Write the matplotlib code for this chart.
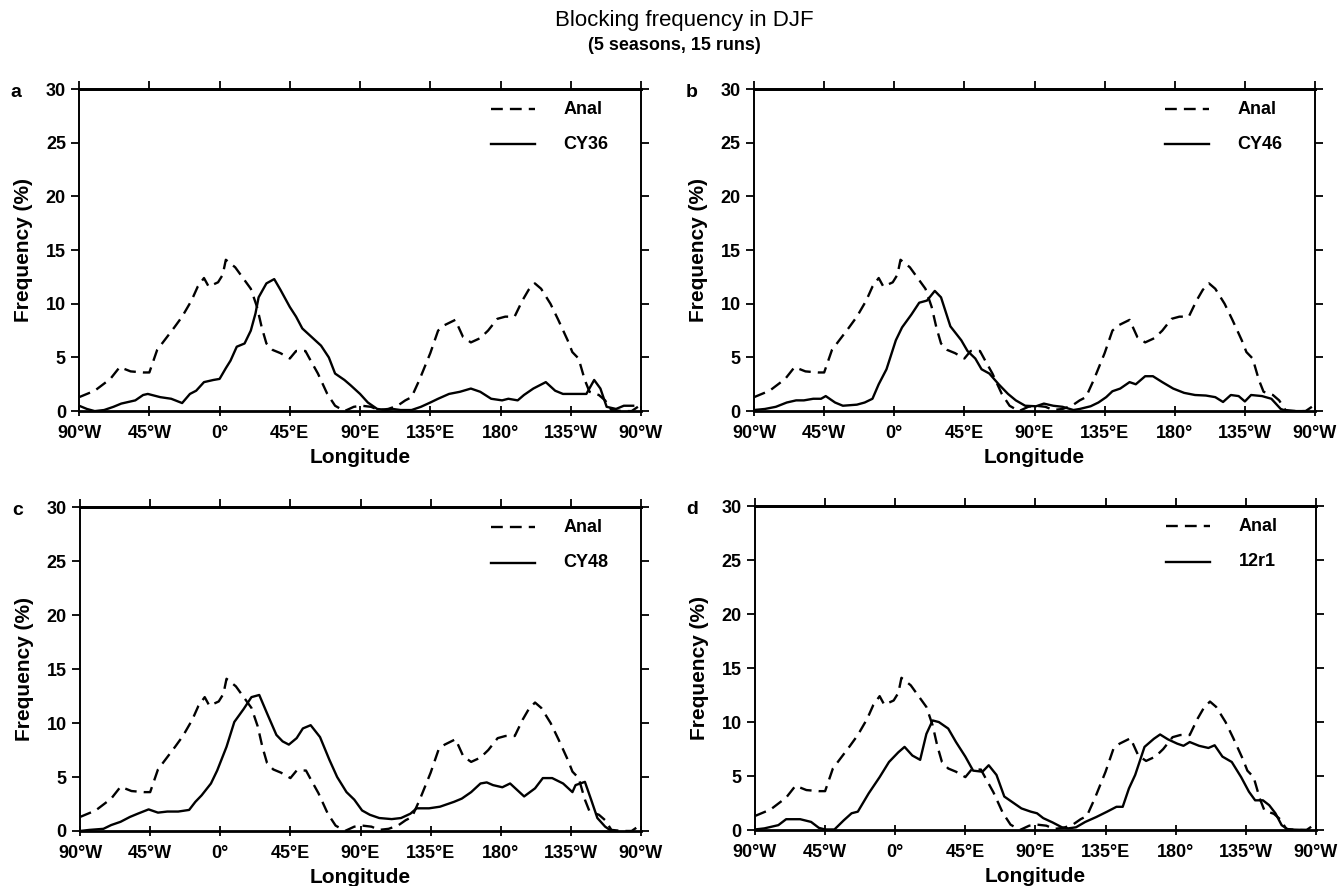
import matplotlib.pyplot as plt

plt.rcParams['font.family'] = ['Liberation Sans', 'DejaVu Sans']

xtick_pos = [-90, -45, 0, 45, 90, 135, 180, 225, 270]
xtick_labels = ['90°W', '45°W', '0°', '45°E', '90°E', '135°E', '180°', '135°W', '90°W']
ytick_pos = [0, 5, 10, 15, 20, 25, 30]

# analysis (same dashed curve in every panel)
anal_lon = [-90, -80, -70, -64, -57, -49, -45, -40, -29, -24, -18, -14, -10, -7, -1, 2, 4,
            10, 16, 20, 24, 27, 30, 34, 39, 45, 49, 55, 58, 63, 69, 74, 80, 86, 91, 97,
            102, 108, 114, 119, 123, 128, 135, 140, 144, 151, 156, 161, 167, 172, 178,
            183, 189, 194, 198, 202, 206, 212, 217, 223, 226, 230, 234, 237, 243, 247,
            251, 258, 264, 268]
anal = [1.3, 1.9, 3.0, 4.1, 3.7, 3.6, 3.6, 5.7, 7.8, 8.8, 10.3, 11.6, 12.4, 11.6, 12.0, 12.7, 14.1,
        13.4, 12.2, 11.4, 9.7, 7.8, 6.3, 5.7, 5.4, 4.9, 5.6, 5.6, 4.8, 3.5, 1.6, 0.5, 0.0, 0.4, 0.5, 0.4,
        0.1, 0.2, 0.5, 1.0, 1.3, 2.9, 5.4, 7.5, 8.0, 8.5, 6.9, 6.4, 6.8, 7.5, 8.6,
        8.8, 8.8, 10.3, 11.3, 11.9, 11.4, 10.0, 8.5, 6.6, 5.5, 4.9, 2.9, 1.8, 1.5, 1.0,
        0.1, 0.0, 0.0, 0.4]

cy36_lon = [-90, -85, -80, -74, -68, -63, -54, -49, -46, -38, -31, -24, -19, -15, -10, -4, 0, 4,
            7, 11, 16, 20, 23, 25, 30, 35, 39, 45, 49, 53, 59, 65, 70, 74, 80, 84, 90, 95,
            101, 107, 111, 116, 123, 129, 135, 140, 147, 154, 161, 167, 174, 181, 185, 191,
            195, 201, 209, 215, 220, 228, 235, 240, 244, 248, 254, 259, 265]
cy36 = [0.5, 0.2, 0.0, 0.1, 0.4, 0.7, 1.0, 1.5, 1.6, 1.3, 1.15, 0.75, 1.6, 1.9, 2.7, 2.9, 3.0, 4.0,
        4.7, 6.0, 6.3, 7.5, 9.1, 10.6, 11.9, 12.3, 11.3, 9.7, 8.8, 7.7, 6.9, 6.1, 5.0, 3.5, 2.9, 2.4, 1.6, 0.8,
        0.2, 0.1, 0.2, 0.1, 0.1, 0.4, 0.8, 1.15, 1.6, 1.8, 2.1, 1.8, 1.15, 1.0, 1.15, 1.0,
        1.5, 2.1, 2.7, 1.9, 1.6, 1.6, 1.6, 2.9, 2.1, 0.4, 0.2, 0.5, 0.5]

cy46_lon = [-90, -83, -76, -69, -63, -58, -52, -47, -44, -38, -33, -24, -19, -14, -10, -5, 1, 5,
            11, 16, 21, 26, 30, 36, 43, 47, 52, 56, 61, 67, 73, 78, 84, 91, 96, 102, 108,
            115, 119, 126, 131, 136, 140, 145, 151, 155, 161, 166, 172, 179, 186, 193, 200,
            206, 211, 216, 221, 225, 229, 236, 242, 248, 252, 264]
cy46 = [0.1, 0.2, 0.4, 0.8, 1.0, 1.0, 1.15, 1.15, 1.4, 0.8, 0.5, 0.6, 0.8, 1.15, 2.5, 3.9, 6.6, 7.8,
        9.0, 10.1, 10.3, 11.2, 10.6, 7.9, 6.6, 5.6, 4.9, 3.9, 3.5, 2.5, 1.6, 1.0, 0.5, 0.45, 0.7, 0.5, 0.4,
        0.1, 0.2, 0.45, 0.8, 1.3, 1.85, 2.1, 2.7, 2.5, 3.25, 3.25, 2.7, 2.1, 1.7, 1.5, 1.45,
        1.3, 0.85, 1.5, 1.4, 0.9, 1.5, 1.4, 1.15, 0.2, 0.0, 0.0]

cy48_lon = [-90, -84, -75, -70, -64, -58, -53, -46, -40, -34, -27, -20, -16, -12, -6, -2, 4, 9,
            15, 20, 25, 30, 36, 40, 44, 49, 53, 58, 64, 70, 75, 81, 86, 91, 96, 102, 110,
            116, 122, 126, 134, 141, 150, 155, 161, 167, 171, 175, 181, 186, 195, 202, 207,
            213, 220, 226, 228, 234, 238, 242, 247, 251]
cy48 = [0.0, 0.1, 0.2, 0.55, 0.85, 1.3, 1.6, 2.0, 1.7, 1.8, 1.8, 1.95, 2.7, 3.3, 4.4, 5.6, 7.8, 10.1,
        11.3, 12.4, 12.6, 10.9, 8.9, 8.3, 8.0, 8.6, 9.5, 9.8, 8.7, 6.6, 5.0, 3.6, 2.9, 1.9, 1.5, 1.2, 1.1,
        1.2, 1.6, 2.1, 2.1, 2.25, 2.7, 3.0, 3.6, 4.4, 4.5, 4.25, 4.05, 4.4, 3.2, 3.95, 4.9,
        4.9, 4.4, 3.6, 4.25, 4.55, 2.9, 1.2, 0.4, 0.0]

r12_lon = [-90, -84, -75, -70, -61, -54, -49, -45, -39, -33, -28, -24, -17, -10, -4, 2, 6, 11,
           16, 20, 24, 28, 34, 39, 45, 50, 56, 60, 65, 70, 76, 81, 87, 91, 95, 101, 107,
           111, 116, 122, 129, 136, 142, 146, 150, 154, 160, 166, 170, 175, 181, 185, 189,
           195, 201, 205, 210, 216, 222, 227, 231, 236, 240, 244, 248, 252, 264]
r12 = [0.05, 0.15, 0.45, 1.0, 1.0, 0.75, 0.2, 0.05, 0.05, 0.9, 1.55, 1.7, 3.4, 4.9, 6.3, 7.2, 7.7, 6.9,
       6.5, 8.9, 10.15, 10.0, 9.4, 8.15, 6.8, 5.5, 5.4, 6.0, 5.1, 3.1, 2.5, 2.0, 1.7, 1.55, 1.1, 0.7, 0.25,
       0.15, 0.25, 0.75, 1.2, 1.7, 2.15, 2.15, 3.85, 5.1, 7.7, 8.45, 8.85, 8.4, 8.0, 7.8, 8.15,
       7.8, 7.6, 7.85, 6.8, 6.3, 4.9, 3.55, 2.75, 2.75, 2.3, 1.55, 0.45, 0.05, 0.0]

panel_letters = ['a', 'b', 'c', 'd']
run_names = ['CY36', 'CY46', 'CY48', '12r1']
run_lons = [cy36_lon, cy46_lon, cy48_lon, r12_lon]
run_vals = [cy36, cy46, cy48, r12]

# axes rectangles in figure fractions
rects = [[0.0590, 0.536, 0.4190, 0.3634],
         [0.5623, 0.536, 0.4183, 0.3634],
         [0.0597, 0.0621, 0.4183, 0.3655],
         [0.5630, 0.0632, 0.4183, 0.3655]]

fig = plt.figure(figsize=(13.41, 8.86), dpi=100)

for i in range(4):
    ax = fig.add_axes(rects[i])
    ax.plot(anal_lon, anal, color='black', lw=1.7, dashes=(5, 3))
    ax.plot(run_lons[i], run_vals[i], color='black', lw=1.7)
    ax.set_xlim(-90, 270)
    ax.set_ylim(0, 30)
    ax.set_xticks(xtick_pos)
    ax.set_xticklabels(xtick_labels, fontsize=13, fontweight='bold')
    ax.set_yticks(ytick_pos)
    ax.set_yticklabels([str(v) for v in ytick_pos], fontsize=13, fontweight='bold')
    ax.tick_params(axis='x', direction='inout', length=7, width=1.3, pad=6.5, top=False)
    ax.tick_params(axis='y', direction='out', length=6, width=1.3, pad=3.5,
                   right=True, labelright=False)
    # outward ticks on the top edge
    top = ax.secondary_xaxis('top')
    top.set_xticks(xtick_pos)
    top.tick_params(direction='out', length=5.5, width=1.3, labeltop=False)
    top.spines['top'].set_linewidth(2.0)
    for side in ['left', 'right']:
        ax.spines[side].set_linewidth(1.4)
    for side in ['top', 'bottom']:
        ax.spines[side].set_linewidth(2.0)
    ax.set_xlabel('Longitude', fontsize=15, fontweight='bold', labelpad=4.5)
    ax.set_ylabel('Frequency (%)', fontsize=15, fontweight='bold', labelpad=9)

    # legend drawn by hand
    ax.plot([0.733, 0.811], [0.938, 0.938], transform=ax.transAxes,
            color='black', lw=1.7, dashes=(5, 3))
    ax.plot([0.733, 0.811], [0.829, 0.829], transform=ax.transAxes,
            color='black', lw=1.7)
    ax.text(0.862, 0.938, 'Anal', transform=ax.transAxes, fontsize=13,
            fontweight='bold', va='center', ha='left')
    ax.text(0.862, 0.829, run_names[i], transform=ax.transAxes, fontsize=13,
            fontweight='bold', va='center', ha='left')

    ax.text(-0.112, 0.99, panel_letters[i], transform=ax.transAxes, fontsize=14,
            fontweight='bold', va='center', ha='center')

fig.text(0.510, 0.977, 'Blocking frequency in DJF', fontsize=16, ha='center', va='center')
fig.text(0.503, 0.949, '(5 seasons, 15 runs)', fontsize=13, fontweight='bold',
         ha='center', va='center')

fig.savefig('out.png', dpi=100)
